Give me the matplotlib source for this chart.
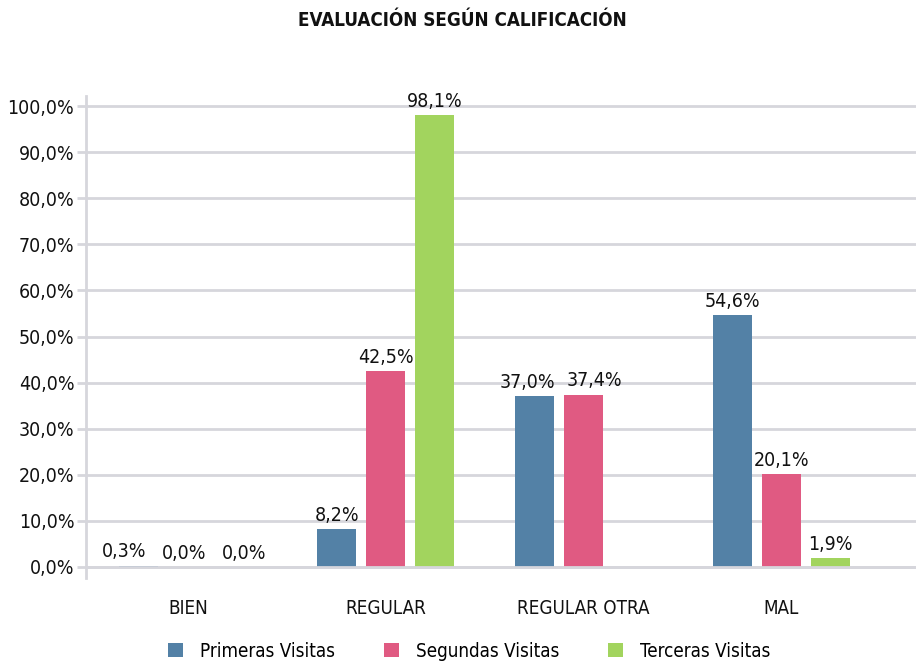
import numpy as np
import matplotlib
matplotlib.use("Agg")
import matplotlib.pyplot as plt

plt.rcParams["font.family"] = ["DejaVu Sans", "Liberation Sans"]
plt.rcParams["font.stretch"] = "condensed"

categories = ["BIEN", "REGULAR", "REGULAR OTRA", "MAL"]
series_names = ["Primeras Visitas", "Segundas Visitas", "Terceras Visitas"]
primeras = [0.3, 8.2, 37.0, 54.6]
segundas = [0.0, 42.5, 37.4, 20.1]
terceras = [0.0, 98.1, None, 1.9]
colors = ["#5381a6", "#e05a82", "#a2d45e"]
yticks = [0, 10, 20, 30, 40, 50, 60, 70, 80, 90, 100]

grid_color = "#d6d6dc"
text_color = "#111111"

# sideways nudge (points) for crowded value labels, keyed by (category, series)
label_nudge = {(0, 0): -11, (0, 1): -3, (0, 2): 5, (2, 0): -5, (2, 1): 8}

fig = plt.figure(figsize=(9.16, 6.61), dpi=100)
ax = fig.add_axes([0.094, 0.1256, 0.906, 0.7292])

x = np.arange(len(categories))
width = 0.197
step = 0.248

for i, (name, vals, col) in enumerate(zip(series_names, [primeras, segundas, terceras], colors)):
    pos = x + (i - 1) * step
    heights = [v if v is not None else 0 for v in vals]
    ax.bar(pos, heights, width, color=col, label=name, zorder=3)
    for j, (p, v) in enumerate(zip(pos, vals)):
        if v is None:
            continue
        dx = label_nudge.get((j, i), 0)
        ax.annotate(f"{v:.1f}%".replace(".", ","), (p, v), xytext=(dx, 3),
                    textcoords="offset points", ha="center", va="bottom",
                    fontsize=14, color=text_color, zorder=4)

# category axis line sits over the bar bases
ax.axhline(0, color=grid_color, linewidth=2, zorder=3.5)

ax.set_xlim(-0.515, 3.68)
ax.set_ylim(-2.4, 102.2)
ax.set_yticks(yticks)
ax.set_yticklabels([f"{t:.1f}%".replace(".", ",") for t in yticks], fontsize=14, color=text_color)
ax.set_xticks(x)
ax.set_xticklabels(categories, fontsize=13.5, color=text_color)
ax.tick_params(axis="x", length=0, pad=15)
ax.tick_params(axis="y", length=6.5, width=2, color=grid_color, pad=2)
ax.yaxis.grid(True, color=grid_color, linewidth=2, zorder=0)
ax.set_axisbelow(True)

for s in ["top", "right", "bottom"]:
    ax.spines[s].set_visible(False)
ax.spines["left"].set_color(grid_color)
ax.spines["left"].set_linewidth(2)

fig.suptitle("EVALUACIÓN SEGÚN CALIFICACIÓN", x=0.505, y=0.983, fontsize=13.5,
             fontweight="bold", color=text_color)

fig.legend(loc="lower center", bbox_to_anchor=(0.512, -0.025), ncol=3, frameon=False,
           fontsize=13.5, handlelength=0.8, handleheight=0.8, columnspacing=2.6,
           handletextpad=0.9)

fig.savefig("out.png", dpi=100)
